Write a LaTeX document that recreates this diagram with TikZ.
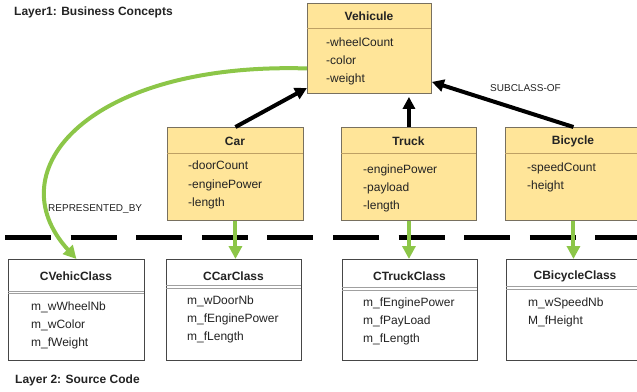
\documentclass[tikz,border=0pt]{standalone}
\usepackage{fontspec}
\setmainfont{Liberation Sans}
\usepackage{tikz}
\usetikzlibrary{arrows.meta, calc}
\definecolor{concept}{RGB}{255, 229, 153}
\definecolor{conceptline}{RGB}{120, 112, 95}
\definecolor{conceptsep}{RGB}{190, 160, 100}
\definecolor{relgreen}{RGB}{140, 198, 72}
\definecolor{codeline}{RGB}{70, 70, 70}
\definecolor{codesep}{RGB}{160, 160, 160}
\definecolor{textdark}{RGB}{35, 35, 35}

\begin{document}
\begin{tikzpicture}[x=1pt, y=-1pt,
  font=\fontsize{12pt}{14pt}\selectfont,
  conceptbox/.style={draw=conceptline, fill=concept, line width=0.9pt,
                     anchor=north west, inner sep=0pt},
  codebox/.style={draw=codeline, fill=white, line width=0.9pt,
                  anchor=north west, inner sep=0pt},
  classname/.style={font=\fontsize{12pt}{14pt}\selectfont\bfseries,
                    text=textdark, inner sep=0pt},
  attr/.style={anchor=base west, inner sep=0pt, text=textdark},
  layer/.style={anchor=west, inner sep=0pt, text=textdark,
                font=\fontsize{12pt}{14pt}\selectfont\bfseries},
  rellabel/.style={anchor=west, inner sep=0pt, text=textdark,
                   font=\fontsize{10pt}{12pt}\selectfont},
  isa/.style={line width=4pt, -{Triangle[length=12pt, width=12pt]}},
  repr/.style={line width=4pt, draw=relgreen,
               -{Triangle[length=13pt, width=13pt]}}]

  \useasboundingbox (0,0) rectangle (637,391);

  % layer 1: business concepts
  \begin{scope}[shift={(307,3)}]
    \node[conceptbox, minimum width=124pt, minimum height=90pt] (vehicule) at (0,0) {};
    \draw[conceptsep] (0,25) -- (124,25);
    \node[classname] (vehicule-name) at (62,13) {Vehicule};
    \foreach \a [count=\i] in {-wheelCount, -color, -weight}
      \node[attr] (vehicule-\i) at (19, 25.5 + 18 * \i) {\a};
  \end{scope}

  \begin{scope}[shift={(167,127)}]
    \node[conceptbox, minimum width=136pt, minimum height=93pt] (car) at (0,0) {};
    \draw[conceptsep] (0,26) -- (136,26);
    \node[classname] (car-name) at (68,14) {Car};
    \foreach \a [count=\i] in {-doorCount, -enginePower, -length}
      \node[attr] (car-\i) at (21, 24 + 18.5 * \i) {\a};
  \end{scope}

  \begin{scope}[shift={(341,127)}]
    \node[conceptbox, minimum width=135pt, minimum height=93pt] (truck) at (0,0) {};
    \draw[conceptsep] (0,26) -- (135,26);
    \node[classname] (truck-name) at (67.5,14) {Truck};
    \foreach \a [count=\i] in {-enginePower, -payload, -length}
      \node[attr] (truck-\i) at (22, 28.5 + 18 * \i) {\a};
  \end{scope}

  \begin{scope}[shift={(505,127)}]
    \node[conceptbox, minimum width=136pt, minimum height=93pt] (bicycle) at (0,0) {};
    \draw[conceptsep] (0,26) -- (136,26);
    \node[classname] (bicycle-name) at (68,14) {Bicycle};
    \foreach \a [count=\i] in {-speedCount, -height}
      \node[attr] (bicycle-\i) at (22, 26.5 + 18 * \i) {\a};
  \end{scope}

  % layer 2: source code
  \begin{scope}[shift={(8,259)}]
    \node[codebox, minimum width=136pt, minimum height=101pt] (cvehic) at (0,0) {};
    \draw[codesep] (0,32) -- (136,32) (0,34.5) -- (136,34.5);
    \node[classname] (cvehic-name) at (68,17) {CVehicClass};
    \foreach \a [count=\i] in {m\_wWheelNb, m\_wColor, m\_fWeight}
      \node[attr] (cvehic-\i) at (23, 33.5 + 18 * \i) {\a};
  \end{scope}

  \begin{scope}[shift={(166,259)}]
    \node[codebox, minimum width=135pt, minimum height=101pt] (ccar) at (0,0) {};
    \draw[codesep] (0,26) -- (135,26) (0,28.7) -- (135,28.7);
    \node[classname] (ccar-name) at (67.5,17) {CCarClass};
    \foreach \a [count=\i] in {m\_wDoorNb, m\_fEnginePower, m\_fLength}
      \node[attr] (ccar-\i) at (21, 27.5 + 18 * \i) {\a};
  \end{scope}

  \begin{scope}[shift={(342,259)}]
    \node[codebox, minimum width=135pt, minimum height=101pt] (ctruck) at (0,0) {};
    \draw[codesep] (0,28.3) -- (135,28.3) (0,31) -- (135,31);
    \node[classname] (ctruck-name) at (67.5,17) {CTruckClass};
    \foreach \a [count=\i] in {m\_fEnginePower, m\_fPayLoad, m\_fLength}
      \node[attr] (ctruck-\i) at (21, 29.5 + 18 * \i) {\a};
  \end{scope}

  \begin{scope}[shift={(506,259)}]
    \node[codebox, minimum width=136pt, minimum height=101pt] (cbicycle) at (0,0) {};
    \draw[codesep] (0,27) -- (136,27) (0,30) -- (136,30);
    \node[classname] (cbicycle-name) at (69,17) {CBicycleClass};
    \foreach \a [count=\i] in {m\_wSpeedNb, M\_fHeight}
      \node[attr] (cbicycle-\i) at (22, 29.5 + 18 * \i) {\a};
  \end{scope}

  % layer separator
  \draw[line width=5pt, dash pattern=on 46pt off 19.6pt] (5,237) -- (645,237);

  \node[layer] (layer1) at (14,12) {Layer1: Business Concepts};
  \node[layer] (layer2) at (15,380) {Layer 2: Source Code};

  % subclass arrows
  \draw[isa] (car.north) -- ([yshift=6pt]vehicule.south west);
  \draw[isa] (truck.north) -- ($(truck.north |- vehicule.south) + (0,3)$);
  \draw[isa] (bicycle.north) -- ([yshift=12pt]vehicule.south east);
  \node[rellabel] (subclass-label) at (490,88) {SUBCLASS-OF};

  % representation arrows
  \draw[repr] ([yshift=-20pt]vehicule.west) .. controls (90,62) and (-5,170) .. (cvehic.north);
  \draw[repr] (car.south) -- (car.south |- ccar.north);
  \draw[repr] (truck.south) -- (truck.south |- ctruck.north);
  \draw[repr] (bicycle.south) -- (bicycle.south |- cbicycle.north);
  \node[rellabel] (represented-label) at (48,209) {REPRESENTED\_BY};

\end{tikzpicture}
\end{document}
